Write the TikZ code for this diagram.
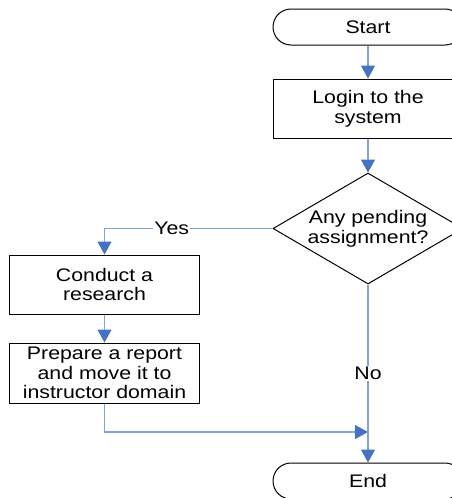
\documentclass[tikz,border=0pt]{standalone}
\usepackage{fontspec}
\setmainfont{Liberation Sans}[FakeStretch=1.17]
\usetikzlibrary{arrows.meta,shapes.geometric}
\definecolor{conn}{HTML}{7FA3DC}
\definecolor{head}{HTML}{4472C4}
\begin{document}
\begin{tikzpicture}[x=1pt,y=-1pt,
  every node/.style={font=\fontsize{18.2}{19.8}\selectfont, align=center, text=black},
  term/.style={draw=black, line width=1pt, minimum width=190pt, minimum height=36pt, rounded corners=18pt, inner sep=0pt},
  procbox/.style={draw=black, line width=1pt, minimum width=190pt, minimum height=59pt, inner sep=0pt},
  diam/.style={draw=black, line width=1pt, diamond, minimum width=190pt, minimum height=111pt, inner sep=0pt},
  conn/.style={draw=conn, line width=1.4pt, -{Triangle[width=14pt,length=13pt,color=head]}},
  lbl/.style={fill=white, inner sep=1pt}]
\useasboundingbox (0,0) rectangle (452,498);
\clip (0,0) rectangle (452,498);
\node[term] (start) at (368,27) {Start};
\node[procbox, minimum height=59pt] (login) at (368,108.5) {Login to the\\system};
\node[diam] (q) at (368,228.5) {};
\node (qt) at (368,228.5) {Any pending\\assignment?};
\node[procbox] (res) at (104.5,284.5) {Conduct a\\research};
\node[procbox, minimum height=60pt] (rep) at (104.5,373) {Prepare a report\\and move it to\\instructor domain};
\node[term] (end) at (368,481) {End};
\coordinate (join) at (368,432);
\draw[conn] (start) -- (login);
\draw[conn] (login) -- (q.north);
\draw[conn] (q.west) -| node[lbl, pos=0.3] {Yes} (res.north);
\draw[conn] (res) -- (rep);
\draw[conn] (rep.south) |- (join);
\draw[conn] (q.south) -- node[lbl, pos=0.5] {No} (end.north);
\end{tikzpicture}
\end{document}
